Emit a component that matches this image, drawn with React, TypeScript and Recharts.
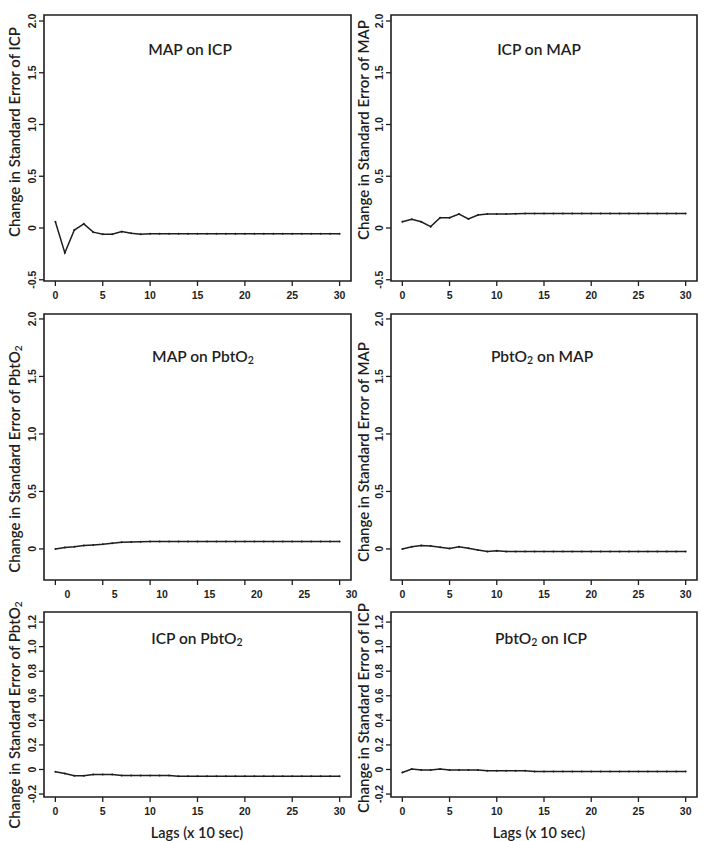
import React from 'react';
import { LineChart, Line, XAxis, YAxis, ReferenceArea } from 'recharts';

// ---- data ----
const lags = [0, 1, 2, 3, 4, 5, 6, 7, 8, 9, 10, 11, 12, 13, 14, 15, 16, 17, 18, 19, 20, 21, 22, 23, 24, 25, 26, 27, 28, 29, 30];
const xTicks = [0, 5, 10, 15, 20, 25, 30];

const mapOnIcp = [0.06, -0.24, -0.02, 0.04, -0.04, -0.06, -0.06, -0.035, -0.05, -0.06, -0.055, -0.055, -0.055, -0.055, -0.055, -0.055, -0.055, -0.055, -0.055, -0.055, -0.055, -0.055, -0.055, -0.055, -0.055, -0.055, -0.055, -0.055, -0.055, -0.055, -0.055];
const icpOnMap = [0.06, 0.084, 0.06, 0.013, 0.1, 0.1, 0.135, 0.087, 0.126, 0.135, 0.135, 0.135, 0.138, 0.14, 0.14, 0.14, 0.14, 0.14, 0.14, 0.14, 0.14, 0.14, 0.14, 0.14, 0.14, 0.14, 0.14, 0.14, 0.14, 0.14, 0.14];
const mapOnPbto2 = [0, 0.012, 0.02, 0.03, 0.035, 0.04, 0.05, 0.058, 0.06, 0.062, 0.064, 0.064, 0.064, 0.064, 0.064, 0.064, 0.064, 0.064, 0.064, 0.064, 0.064, 0.064, 0.064, 0.064, 0.064, 0.064, 0.064, 0.064, 0.064, 0.064, 0.064];
const pbto2OnMap = [0, 0.02, 0.03, 0.026, 0.015, 0.003, 0.02, 0.006, -0.01, -0.023, -0.015, -0.023, -0.023, -0.023, -0.023, -0.023, -0.023, -0.023, -0.023, -0.023, -0.023, -0.023, -0.023, -0.023, -0.023, -0.023, -0.023, -0.023, -0.023, -0.023, -0.023];
const icpOnPbto2 = [-0.019, -0.032, -0.05, -0.05, -0.04, -0.04, -0.04, -0.048, -0.048, -0.048, -0.048, -0.048, -0.048, -0.056, -0.056, -0.056, -0.056, -0.056, -0.056, -0.056, -0.056, -0.056, -0.056, -0.056, -0.056, -0.056, -0.056, -0.056, -0.056, -0.056, -0.056];
const pbto2OnIcp = [-0.024, 0.003, -0.005, -0.005, 0.003, -0.005, -0.005, -0.005, -0.005, -0.011, -0.011, -0.011, -0.011, -0.011, -0.016, -0.016, -0.016, -0.016, -0.016, -0.016, -0.016, -0.016, -0.016, -0.016, -0.016, -0.016, -0.016, -0.016, -0.016, -0.016, -0.016];

const yTicksTop = [-0.5, 0, 0.5, 1.0, 1.5, 2.0];
const yTicksMid = [0, 0.5, 1.0, 1.5, 2.0];
const yTicksBot = [-0.2, 0, 0.2, 0.4, 0.6, 0.8, 1.0, 1.2];

const toRows = (vals: number[]) => lags.map((lag, i) => ({ lag, v: vals[i] }));

// ---- styling ----
const INK = '#1e1e1e';
const TICK_FONT = '"Liberation Sans", Arial, sans-serif';
const TEXT_FONT = 'Lato, "Open Sans", sans-serif';
const X_DOMAIN: [number, number] = [-1.2, 31.2];
const YAXIS_W = 40;
const XAXIS_H = 30;
const M_TOP = 3;

const fmtY = (v: number) => (v === 0 ? '0' : v.toFixed(1));

function YTick(props: any) {
  const { x, y, payload } = props;
  return (
    <text
      x={x}
      y={y}
      transform={`rotate(-90 ${x} ${y})`}
      textAnchor="middle"
      fontSize={10.5}
      fontWeight="bold"
      fontFamily={TICK_FONT}
      fill={INK}
    >
      {fmtY(payload.value)}
    </text>
  );
}

const makeXTick = (dx: number) => (props: any) => {
  const { x, y, payload } = props;
  return (
    <text
      x={x + dx}
      y={y}
      dy="0.71em"
      textAnchor="middle"
      fontSize={10.5}
      fontWeight="bold"
      fontFamily={TICK_FONT}
      fill={INK}
    >
      {payload.value}
    </text>
  );
};

interface PanelProps {
  left: number;
  top: number;
  right: number;
  bottom: number;
  yDomain: [number, number];
  yTicks: number[];
  values: number[];
  xLabelShift?: number;
}

function Panel({ left, top, right, bottom, yDomain, yTicks, values, xLabelShift = 0 }: PanelProps) {
  const mRight = 3 + xLabelShift;
  const w = right - left + YAXIS_W + mRight;
  const h = bottom - top + XAXIS_H + M_TOP;
  return (
    <div style={{ position: 'absolute', left: left - YAXIS_W, top: top - M_TOP }}>
      <LineChart width={w} height={h} data={toRows(values)} margin={{ top: M_TOP, right: mRight, left: 0, bottom: 0 }}>
        <XAxis
          dataKey="lag"
          type="number"
          domain={X_DOMAIN}
          ticks={xTicks}
          allowDataOverflow
          height={XAXIS_H}
          axisLine={false}
          tickLine={{ stroke: INK, strokeWidth: 1.3 }}
          tickSize={5}
          tickMargin={6}
          tick={makeXTick(xLabelShift)}
          interval={0}
        />
        <YAxis
          type="number"
          domain={yDomain}
          ticks={yTicks}
          allowDataOverflow
          width={YAXIS_W}
          axisLine={false}
          tickLine={{ stroke: INK, strokeWidth: 1.3 }}
          tickSize={5}
          tickMargin={3}
          tick={<YTick />}
          interval={0}
        />
        <ReferenceArea
          x1={X_DOMAIN[0]}
          x2={X_DOMAIN[1]}
          y1={yDomain[0]}
          y2={yDomain[1]}
          fill="none"
          fillOpacity={0}
          stroke={INK}
          strokeWidth={1.6}
          ifOverflow="visible"
        />
        <Line
          type="linear"
          dataKey="v"
          stroke={INK}
          strokeWidth={1.5}
          dot={{ r: 1, fill: INK, stroke: 'none' }}
          isAnimationActive={false}
        />
      </LineChart>
    </div>
  );
}

const SUB = 'SUB';

function RichText({ parts, fs }: { parts: string[]; fs: number }) {
  const shift = fs * 0.28;
  const out: React.ReactNode[] = [];
  let lowered = false;
  parts.forEach((p, i) => {
    if (p === SUB) {
      out.push(
        <tspan key={i} dy={shift} fontSize={fs * 0.68}>
          2
        </tspan>
      );
      lowered = true;
    } else {
      out.push(
        <tspan key={i} dy={lowered ? -shift : 0}>
          {p}
        </tspan>
      );
      lowered = false;
    }
  });
  return <>{out}</>;
}

function YTitle({ x, y, parts }: { x: number; y: number; parts: string[] }) {
  const fs = 15;
  return (
    <text
      x={x}
      y={y}
      transform={`rotate(-90 ${x} ${y})`}
      textAnchor="middle"
      dominantBaseline="central"
      fontSize={fs}
      fontWeight={600}
      fontFamily={TEXT_FONT}
      fill={INK}
    >
      <RichText parts={parts} fs={fs} />
    </text>
  );
}

function Title({ x, y, parts }: { x: number; y: number; parts: string[] }) {
  const fs = 15.5;
  return (
    <text
      x={x}
      y={y}
      textAnchor="middle"
      dominantBaseline="central"
      fontSize={fs}
      fontWeight={600}
      fontFamily={TEXT_FONT}
      fill={INK}
    >
      <RichText parts={parts} fs={fs} />
    </text>
  );
}

export default function App() {
  const top: [number, number] = [-0.512, 2.058];
  const mid: [number, number] = [-0.27, 2.043];
  const bot: [number, number] = [-0.224, 1.282];
  return (
    <div style={{ position: 'absolute', left: 0, top: 0, width: 708, height: 841, background: '#fff', overflow: 'hidden' }}>
      <Panel left={44} top={15} right={351} bottom={281} yDomain={top} yTicks={yTicksTop} values={mapOnIcp} />
      <Panel left={391} top={15} right={697} bottom={281} yDomain={top} yTicks={yTicksTop} values={icpOnMap} />
      <Panel left={44} top={314} right={351} bottom={580} yDomain={mid} yTicks={yTicksMid} values={mapOnPbto2} xLabelShift={12} />
      <Panel left={391} top={314} right={697} bottom={580} yDomain={mid} yTicks={yTicksMid} values={pbto2OnMap} />
      <Panel left={44} top={612} right={351} bottom={797} yDomain={bot} yTicks={yTicksBot} values={icpOnPbto2} />
      <Panel left={391} top={612} right={697} bottom={797} yDomain={bot} yTicks={yTicksBot} values={pbto2OnIcp} />
      <svg width={708} height={841} style={{ position: 'absolute', left: 0, top: 0, pointerEvents: 'none' }}>
        <YTitle x={14} y={132} parts={['Change in Standard Error of ICP']} />
        <YTitle x={363} y={130} parts={['Change in Standard Error of MAP']} />
        <YTitle x={14} y={459} parts={['Change in Standard Error of PbtO', SUB]} />
        <YTitle x={363} y={452} parts={['Change in Standard Error of MAP']} />
        <YTitle x={14} y={715} parts={['Change in Standard Error of PbtO', SUB]} />
        <YTitle x={363} y={708} parts={['Change in Standard Error of ICP']} />

        <Title x={190} y={49} parts={['MAP on ICP']} />
        <Title x={539} y={49} parts={['ICP on MAP']} />
        <Title x={203} y={356} parts={['MAP on PbtO', SUB]} />
        <Title x={542} y={356} parts={['PbtO', SUB, ' on MAP']} />
        <Title x={197} y={638} parts={['ICP on PbtO', SUB]} />
        <Title x={541} y={638} parts={['PbtO', SUB, ' on ICP']} />

        <text x={197} y={832} textAnchor="middle" dominantBaseline="central" fontSize={14.5} fontWeight={600} fontFamily={TEXT_FONT} fill={INK}>Lags (x 10 sec)</text>
        <text x={539} y={832} textAnchor="middle" dominantBaseline="central" fontSize={14.5} fontWeight={600} fontFamily={TEXT_FONT} fill={INK}>Lags (x 10 sec)</text>
      </svg>
    </div>
  );
}
